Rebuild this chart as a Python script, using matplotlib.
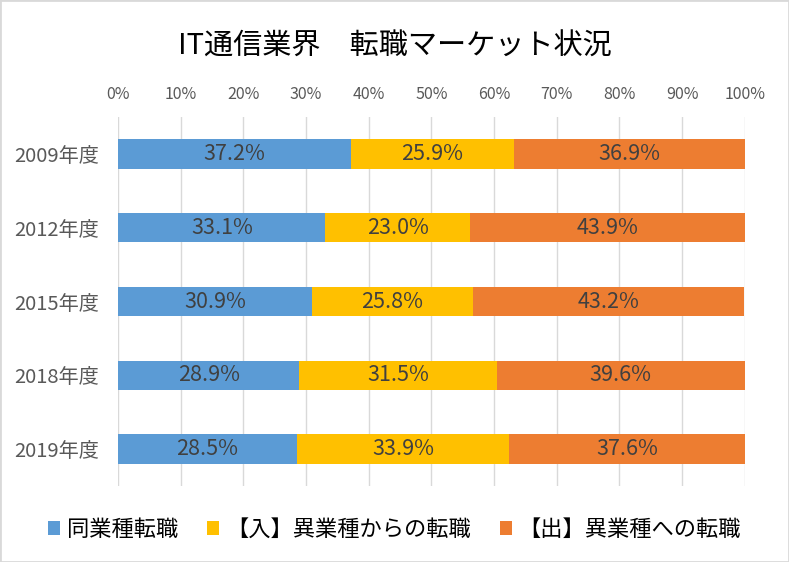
import matplotlib
matplotlib.use("Agg")
import matplotlib.pyplot as plt
from matplotlib.patches import Rectangle
import numpy as np

plt.rcParams['font.family'] = ['Noto Sans CJK JP', 'DejaVu Sans']

categories = ["2009年度", "2012年度", "2015年度", "2018年度", "2019年度"]
series_names = ["同業種転職", "【入】異業種からの転職", "【出】異業種への転職"]
same = [37.2, 33.1, 30.9, 28.9, 28.5]
inbound = [25.9, 23.0, 25.8, 31.5, 33.9]
outbound = [36.9, 43.9, 43.2, 39.6, 37.6]
colors = ["#5B9BD5", "#FFC000", "#ED7D31"]
xticks = [0, 10, 20, 30, 40, 50, 60, 70, 80, 90, 100]
xticklabels = [f"{v}%" for v in xticks]

fig = plt.figure(figsize=(7.89, 5.62), dpi=100)
ax = fig.add_axes([0.1496, 0.135, 0.7944, 0.657])

y = np.arange(len(categories))
left = np.zeros(len(categories))
for name, vals, c in zip(series_names, [same, inbound, outbound], colors):
    vals = np.array(vals)
    ax.barh(y, vals, left=left, height=0.4, color=c, label=name, zorder=3)
    for yi, l, v in zip(y, left, vals):
        ax.text(l + v / 2, yi, f"{v:.1f}%", ha="center", va="center",
                fontsize=15.5, color="#404040", zorder=4)
    left = left + vals

ax.set_xlim(0, 100)
ax.set_ylim(len(categories) - 0.5, -0.5)
ax.set_yticks(y)
ax.set_yticklabels(categories, fontsize=14.5, color="#595959")
ax.set_xticks(xticks)
ax.set_xticklabels(xticklabels, fontsize=11.5, color="#595959")
ax.xaxis.tick_top()
ax.tick_params(axis="both", length=0)
ax.tick_params(axis="x", pad=10)
ax.tick_params(axis="y", pad=14)
for s in ax.spines.values():
    s.set_visible(False)
ax.grid(axis="x", color="#D9D9D9", linewidth=1, zorder=0)

fig.text(0.5, 0.917, "IT通信業界　転職マーケット状況", ha="center", va="center",
         fontsize=21, color="#000000")

fig.legend(loc="center", bbox_to_anchor=(0.5, 0.058), ncol=3, frameon=False,
           fontsize=16, handlelength=0.55, handleheight=0.55, handletextpad=0.3,
           columnspacing=1.3)

fig.patches.append(Rectangle((0, 0), 1, 1, transform=fig.transFigure, fill=False,
                             edgecolor="#D9D9D9", linewidth=2))

fig.savefig("out.png", dpi=100)
